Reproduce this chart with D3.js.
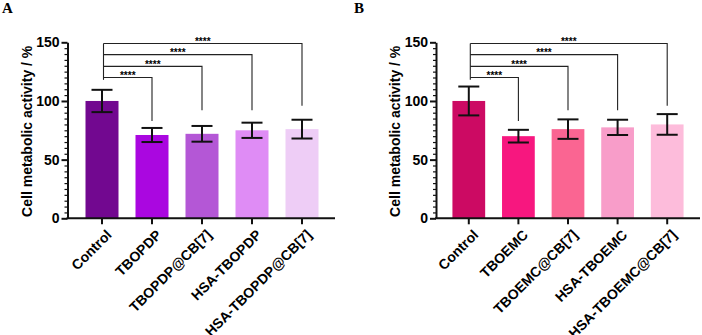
<!DOCTYPE html>
<html>
<head>
<meta charset="utf-8">
<script src="https://cdn.jsdelivr.net/npm/d3@7"></script>
<style>
  body { margin: 0; background: #fff; }
  svg { display: block; }
  text { font-family: "Liberation Sans", Arial, sans-serif; font-weight: bold; fill: #000; }
</style>
</head>
<body>
<div id="chart"></div>
<script>
// panel A
const groupsA = ["Control", "TBOPDP", "TBOPDP@CB[7]", "HSA-TBOPDP", "HSA-TBOPDP@CB[7]"];
const meansA = [100, 71, 72, 75, 76];
const errorsA = [9.5, 6, 6.7, 6.5, 8];
const coloursA = ["#720890", "#aa07e0", "#b457d6", "#df8cf5", "#eecdf6"];

// panel B
const groupsB = ["Control", "TBOEMC", "TBOEMC@CB[7]", "HSA-TBOEMC", "HSA-TBOEMC@CB[7]"];
const meansB = [100, 70, 76, 77.5, 80];
const errorsB = [12.3, 5.4, 8.3, 6.5, 8.8];
const coloursB = ["#cc0a63", "#f7177f", "#fa6592", "#f89dc9", "#fdbcdb"];

// significance brackets (Control vs each), heights in y units
const bracketLevels = [120, 129.5, 139.5, 149];
const bracketDrops = [83, 92, 92, 96];
const bracketStart = 118;
const bracketLabels = ["****", "****", "****", "****"];

const yTicks = [0, 50, 100, 150];

const width = 702, height = 335;
const svg = d3.select("#chart").append("svg")
  .attr("width", width)
  .attr("height", height);

function drawPanel(cfg) {
  const g = svg.append("g").attr("class", "panel");

  const y = d3.scaleLinear().domain([0, 150]).range([218.3, 42.3]);
  const x = d3.scaleBand().domain(cfg.groups)
    .range(cfg.bandRange)
    .paddingInner(0.34).paddingOuter(0.17);

  // panel letter
  g.append("text")
    .attr("x", cfg.letterX).attr("y", 13)
    .style("font-family", "'Liberation Serif', 'Times New Roman', serif")
    .style("font-size", "15px")
    .text(cfg.letter);

  // bars
  g.selectAll(".bar").data(cfg.groups).enter()
    .append("rect")
    .attr("class", "bar")
    .attr("x", d => x(d))
    .attr("width", x.bandwidth())
    .attr("y", (d, i) => y(cfg.means[i]))
    .attr("height", (d, i) => y(0) - y(cfg.means[i]))
    .attr("fill", (d, i) => cfg.colours[i]);

  // error bars
  const eb = g.selectAll(".err").data(cfg.groups).enter()
    .append("g").attr("class", "err")
    .attr("stroke", "#111").attr("stroke-width", 2).attr("fill", "none");
  const cx = d => x(d) + x.bandwidth() / 2;
  eb.append("line")
    .attr("x1", cx).attr("x2", cx)
    .attr("y1", (d, i) => y(cfg.means[i] + cfg.errors[i]))
    .attr("y2", (d, i) => y(cfg.means[i] - cfg.errors[i]));
  eb.append("line")
    .attr("x1", d => cx(d) - 10.5).attr("x2", d => cx(d) + 10.5)
    .attr("y1", (d, i) => y(cfg.means[i] + cfg.errors[i]))
    .attr("y2", (d, i) => y(cfg.means[i] + cfg.errors[i]));
  eb.append("line")
    .attr("x1", d => cx(d) - 10.5).attr("x2", d => cx(d) + 10.5)
    .attr("y1", (d, i) => y(cfg.means[i] - cfg.errors[i]))
    .attr("y2", (d, i) => y(cfg.means[i] - cfg.errors[i]));

  // brackets
  const c0 = cx(cfg.groups[0]) + 1.5;
  const br = g.append("g").attr("stroke", "#222").attr("stroke-width", 1.1).attr("fill", "none");
  br.append("line")
    .attr("x1", c0).attr("x2", c0)
    .attr("y1", y(bracketStart)).attr("y2", y(d3.max(bracketLevels)));
  bracketLevels.forEach((lv, i) => {
    const xe = cx(cfg.groups[i + 1]);
    br.append("path")
      .attr("d", `M${c0},${y(lv)}H${xe}V${y(bracketDrops[i])}`);
    g.append("text")
      .attr("x", (c0 + xe) / 2)
      .attr("y", y(lv) + 1.5)
      .attr("text-anchor", "middle")
      .style("font-size", "10px")
      .text(bracketLabels[i]);
  });

  // y axis: minor ticks
  const minor = d3.range(0, 151, 5).filter(v => v % 50 !== 0);
  g.append("g")
    .attr("transform", `translate(${cfg.axisX},0)`)
    .call(d3.axisLeft(y).tickValues(minor).tickSize(3).tickFormat(""))
    .call(a => a.select(".domain").remove())
    .call(a => a.selectAll("line").attr("stroke", "#111").attr("stroke-width", 1.2));

  // y axis: major ticks
  g.append("g")
    .attr("transform", `translate(${cfg.axisX},0)`)
    .call(d3.axisLeft(y).tickValues(yTicks).tickSize(6).tickPadding(2).tickSizeOuter(0))
    .call(a => a.select(".domain").attr("stroke", "#111").attr("stroke-width", 2))
    .call(a => a.selectAll("line").attr("stroke", "#111").attr("stroke-width", 2))
    .call(a => a.selectAll("text").style("font-size", "14px").style("font-family", "'Liberation Sans', Arial, sans-serif"));

  // x axis
  const xa = g.append("g").attr("transform", `translate(0,${y(0)})`);
  xa.append("line")
    .attr("x1", cfg.axisX - 1).attr("x2", cfg.bandRange[1] + 8)
    .attr("stroke", "#111").attr("stroke-width", 2);
  xa.call(d3.axisBottom(x).tickSize(6).tickSizeOuter(0))
    .call(a => a.select(".domain").remove())
    .call(a => a.selectAll("line").attr("stroke", "#111").attr("stroke-width", 2))
    .call(a => a.selectAll("text")
      .style("font-size", "14px")
      .style("font-family", "'Liberation Sans', Arial, sans-serif")
      .attr("text-anchor", "end")
      .attr("dy", "0.35em")
      .attr("transform", "translate(7,14) rotate(-45)")
      .attr("y", 0).attr("x", 0));

  // y label
  g.append("text")
    .attr("transform", `translate(${cfg.axisX - 36},${(y(0) + y(150)) / 2 + 1}) rotate(-90)`)
    .attr("text-anchor", "middle")
    .style("font-size", "14px")
    .text("Cell metabolic activity / %");
}

drawPanel({
  letter: "A", letterX: 2, axisX: 67.5, bandRange: [77, 327],
  groups: groupsA, means: meansA, errors: errorsA, colours: coloursA
});
drawPanel({
  letter: "B", letterX: 354, axisX: 436, bandRange: [444, 692],
  groups: groupsB, means: meansB, errors: errorsB, colours: coloursB
});
</script>
</body>
</html>
